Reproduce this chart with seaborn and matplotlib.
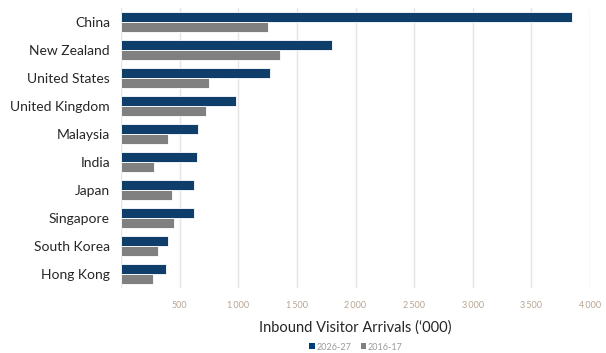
import matplotlib
matplotlib.use("Agg")
import matplotlib.pyplot as plt
import seaborn as sns
import pandas as pd
from matplotlib.ticker import FuncFormatter
from matplotlib.patches import Patch

countries = ["China", "New Zealand", "United States", "United Kingdom", "Malaysia",
             "India", "Japan", "Singapore", "South Korea", "Hong Kong"]
arrivals_2026 = [3850, 1800, 1270, 980, 658, 648, 625, 625, 405, 385]
arrivals_2016 = [1250, 1360, 750, 727, 398, 283, 431, 451, 316, 276]
series = ["2026-27", "2016-17"]
colors = ["#003F7A", "#808080"]

df = pd.DataFrame({
    "Country": countries * 2,
    "Value": arrivals_2026 + arrivals_2016,
    "Series": [series[0]] * len(countries) + [series[1]] * len(countries),
})

sns.set_theme(style="white")
plt.rcParams["font.family"] = ["Lato", "DejaVu Sans"]

fig = plt.figure(figsize=(6.06, 3.53), dpi=100)
ax = fig.add_axes([121 / 606, 1 - 288 / 353, (590 - 121) / 606, (288 - 8) / 353])

sns.barplot(data=df, y="Country", x="Value", hue="Series", palette=colors,
            order=countries, hue_order=series, orient="h", width=0.72,
            edgecolor="white", linewidth=0.6, ax=ax, legend=False)

ax.set_xlim(0, 4000)
ax.set_xticks([500, 1000, 1500, 2000, 2500, 3000, 3500, 4000])
ax.xaxis.set_major_formatter(FuncFormatter(lambda v, p: f"{int(v):,}".replace(",", "\u2009") if v >= 1000 else f"{int(v)}"))
ax.tick_params(axis="x", labelsize=6.5, colors="#B8A592", length=0, pad=9)
ax.tick_params(axis="y", labelsize=10, colors="#262626", length=0, pad=8)
ax.grid(axis="x", color="#E4E4E4", linewidth=1)
ax.axvline(0, color="#E4E4E4", linewidth=1, zorder=0)
ax.set_axisbelow(True)
for s in ax.spines.values():
    s.set_visible(False)
ax.set_ylabel("")
ax.set_xlabel("Inbound Visitor Arrivals (\u2018000)", fontsize=10.5, color="#262626", labelpad=8)

handles = [Patch(facecolor=c, edgecolor="none") for c in colors]
fig.legend(handles, series, loc="center", bbox_to_anchor=(356 / 606, 1 - 347 / 353),
           ncol=2, frameon=False, fontsize=6.5, labelcolor="#9A9A9A",
           handlelength=0.6, handleheight=0.6, handletextpad=0.2, columnspacing=1.0)

fig.savefig("out.png", dpi=100)
